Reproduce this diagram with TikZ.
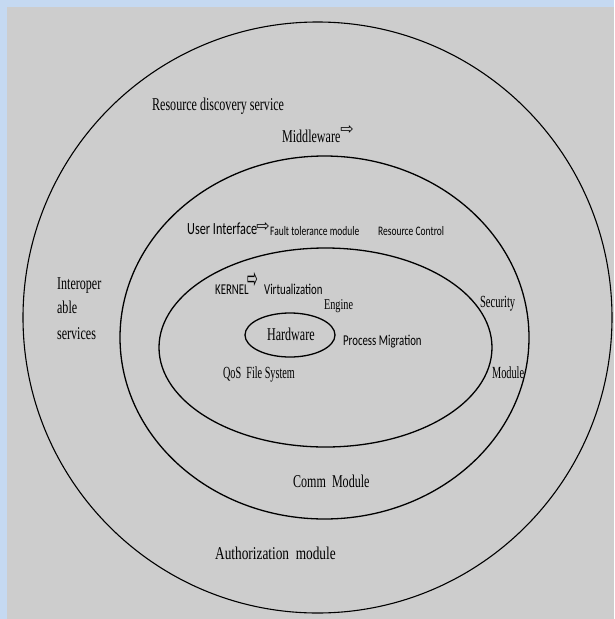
\documentclass[tikz,border=0pt]{standalone}
\usepackage{fontspec}
\setmainfont{Liberation Serif}
\newfontfamily\calib{Carlito}
\newfontfamily\djv{DejaVu Sans}
\definecolor{bgray}{RGB}{205,205,205}
\definecolor{bblue}{RGB}{197,217,241}
\begin{document}
\begin{tikzpicture}[x=1pt,y=-1pt,
  ser/.style={anchor=west,inner sep=0pt,font=\fontsize{18}{20}\selectfont,xscale=#1,text height=0.7em,text depth=0.2em},
  ser/.default=0.67,
  sans/.style={anchor=west,inner sep=0pt,font=\calib\fontsize{15}{17}\selectfont,xscale=#1,text height=0.7em,text depth=0.2em},
  sans/.default=0.72,
  smallsans/.style={anchor=west,inner sep=0pt,font=\calib\fontsize{13}{15}\selectfont,xscale=0.73,text height=0.7em,text depth=0.2em},
  arr/.style={inner sep=0pt,font=\djv\fontsize{16}{16}\selectfont},
  ring/.style={draw=black,line width=1.3pt}]
\useasboundingbox (0,0) rectangle (614,619);
\fill[bblue] (0,0) rectangle (614,619);
\fill[bgray] (7,7) rectangle (614,619);
% rings
\draw[ring,line width=1.1pt] (317.5,317.5) ellipse [x radius=294.5, y radius=295.5];
\draw[ring] (324.5,337.5) ellipse [x radius=204.5, y radius=181.5];
\draw[ring] (325.5,347.5) ellipse [x radius=166.5, y radius=99.5];
\draw[ring] (290,335) ellipse [x radius=45, y radius=22];
% texts
\node[ser] (rds) at (152,108) {Resource discovery service};
\node[ser] (mid) at (282,140) {Middleware};
\node[arr] (midarr) at (347,130) {⇨};
\node[sans,font=\calib\fontsize{17}{19}\selectfont] (ui) at (187,232) {User Interface};
\node[arr] (uiarr) at (263,227) {⇨};
\node[smallsans] (ftm) at (270,233) {Fault tolerance module};
\node[smallsans] (rc) at (378,233) {Resource Control};
\node[sans] (kern) at (215,292) {KERNEL};
\node[arr,xscale=0.8,yscale=1.8] (karr) at (253,280) {⇨};
\node[sans] (virt) at (264,292) {Virtualization};
\node[ser=0.68,font=\fontsize{15}{17}\selectfont] (eng) at (324,307) {Engine};
\node[ser] (hw) at (267,338) {Hardware};
\node[sans] (pm) at (343,343) {Process Migration};
\node[ser=0.6,font=\fontsize{17}{19}\selectfont] (qos) at (223,376) {QoS\ \ File System};
\node[ser=0.62,font=\fontsize{17}{19}\selectfont] (sec) at (480,305) {Security};
\node[ser=0.605,font=\fontsize{17}{19}\selectfont] (modl) at (492,376) {Module};
\node[ser] (io1) at (57,287) {Interoper};
\node[ser] (io2) at (57,311) {able};
\node[ser] (io3) at (57,337) {services};
\node[ser] (comm) at (293,485) {Comm\ \ Module};
\node[ser=0.74] (auth) at (215,557) {Authorization\ \ module};
\end{tikzpicture}
\end{document}
